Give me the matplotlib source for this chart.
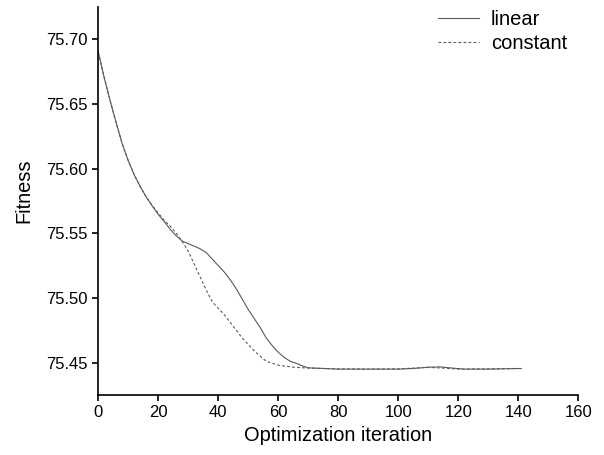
import matplotlib
matplotlib.use("Agg")
import matplotlib.pyplot as plt

plt.rcParams['font.family'] = ['Liberation Sans', 'DejaVu Sans']

iter_linear = [0, 2, 4, 6, 8, 10, 12, 14, 16, 18, 20, 22, 24, 26, 28, 30, 32, 34, 36, 38,
               40, 42, 44, 46, 48, 50, 52, 54, 56, 58, 60, 62, 64, 66, 68, 70, 75, 80, 90,
               100, 105, 110, 114, 118, 122, 130, 141]
fit_linear = [75.690, 75.670, 75.652, 75.635, 75.619, 75.606, 75.595, 75.586, 75.578, 75.571,
              75.5645, 75.559, 75.553, 75.548, 75.544, 75.542, 75.540, 75.538, 75.535, 75.530,
              75.525, 75.520, 75.514, 75.507, 75.499, 75.491, 75.484, 75.477, 75.469, 75.463,
              75.458, 75.454, 75.451, 75.4495, 75.4475, 75.446, 75.4455, 75.445, 75.445,
              75.445, 75.4455, 75.4465, 75.4467, 75.4458, 75.445, 75.445, 75.4455]

iter_constant = [0, 2, 4, 6, 8, 10, 12, 14, 16, 18, 20, 22, 24, 26, 28, 30, 32, 34, 36, 38,
                 40, 42, 44, 46, 48, 50, 52, 54, 56, 58, 60, 65, 70, 80, 90, 100, 105, 110,
                 115, 120, 130, 140]
fit_constant = [75.690, 75.670, 75.652, 75.635, 75.619, 75.606, 75.595, 75.586, 75.578, 75.5715,
                75.5655, 75.5600, 75.5555, 75.5500, 75.5435, 75.536, 75.526, 75.516, 75.506,
                75.497, 75.492, 75.487, 75.481, 75.475, 75.469, 75.464, 75.459, 75.455, 75.451,
                75.4495, 75.448, 75.4465, 75.4458, 75.4452, 75.445, 75.4452, 75.4458, 75.4463,
                75.4458, 75.445, 75.4452, 75.4455]

xticks = [0, 20, 40, 60, 80, 100, 120, 140, 160]
yticks = [75.45, 75.50, 75.55, 75.60, 75.65, 75.70]

fig = plt.figure(figsize=(6.04, 4.55), dpi=100)
ax = fig.add_axes([0.1628, 0.1319, 0.7947, 0.8527])

ax.plot(iter_linear, fit_linear, color='#5a5a5a', lw=0.8, ls='-', label='linear')
ax.plot(iter_constant, fit_constant, color='#5a5a5a', lw=0.8, ls=(0, (2.5, 2)), label='constant')

ax.set_xlim(0, 160)
ax.set_ylim(75.425, 75.725)
ax.set_xticks(xticks)
ax.set_yticks(yticks)
ax.set_yticklabels([f"{v:.2f}" for v in yticks])
ax.tick_params(direction='out', length=4, width=1.2, labelsize=12, color='black')
for s in ['top', 'right']:
    ax.spines[s].set_visible(False)
for s in ['left', 'bottom']:
    ax.spines[s].set_linewidth(1.2)

ax.set_xlabel('Optimization iteration', fontsize=14.4)
ax.xaxis.set_label_coords(0.5, -0.080)
ax.set_ylabel('Fitness', fontsize=14.4)
ax.yaxis.set_label_coords(-0.136, 0.526)

ax.legend(loc='upper right', frameon=False, fontsize=14.5, handlelength=2.0,
          handletextpad=0.6, labelspacing=0.25, borderaxespad=0.0,
          bbox_to_anchor=(0.993, 1.013))

fig.savefig('out.png', dpi=100)
